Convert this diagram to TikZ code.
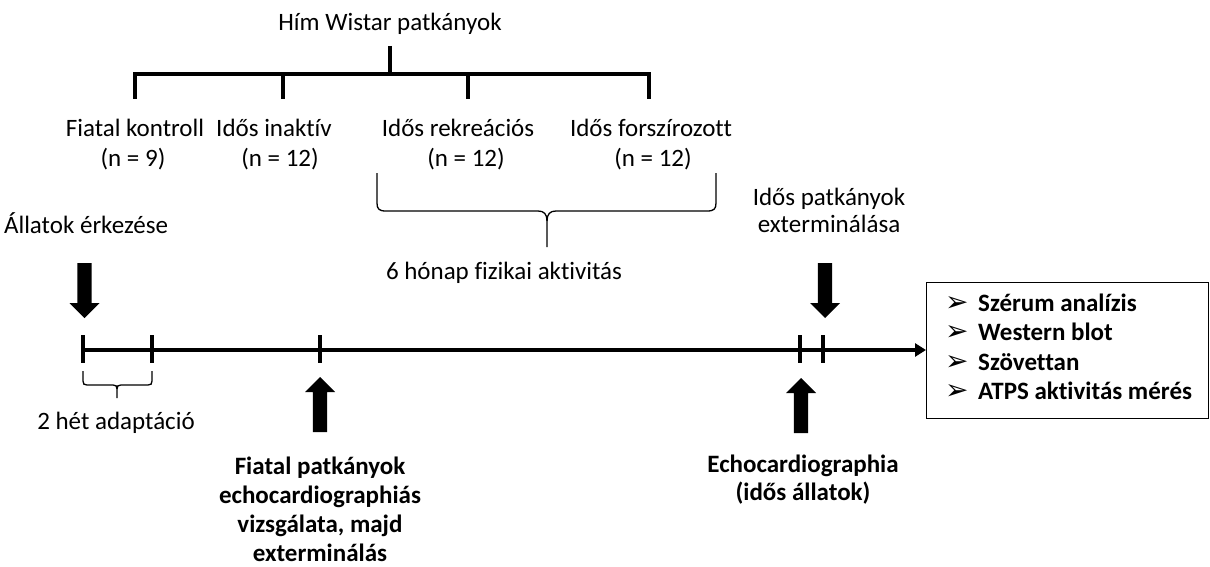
\documentclass[tikz,border=0pt]{standalone}
\usepackage{fontspec}
\setmainfont{Carlito}[Ligatures={NoCommon}]
\newfontfamily\dejavu{DejaVu Sans}
\usetikzlibrary{arrows.meta}
\begin{document}
\begin{tikzpicture}[x=1pt,y=-1pt,
  lbl/.style={font=\fontsize{25}{30}\selectfont, inner sep=0pt, anchor=base},
  blbl/.style={lbl, font=\fontsize{25}{30}\selectfont\bfseries},
  tree/.style={line width=4.5pt, line join=miter},
  tick/.style={line width=4pt},
  brace/.style={line width=1.3pt, line join=round},
  downarr/.pic={\fill (-7.2,0) -- (7.2,0) -- (7.2,40) -- (15,40) -- (0,55) -- (-15,40) -- (-7.2,40) -- cycle;},
  uparr/.pic={\fill (0,0) -- (15,15) -- (7.2,15) -- (7.2,55) -- (-7.2,55) -- (-7.2,15) -- (-15,15) -- cycle;},
]
\useasboundingbox (0,0) rectangle (1210,567);

% tree
\node[lbl] (top) at (390,31) {Hím Wistar patkányok};
\coordinate (tb) at (390,46);
\coordinate (tj) at (390,74);
\coordinate (d1) at (135,99);
\coordinate (d2) at (283,99);
\coordinate (d3) at (468,99);
\coordinate (d4) at (649,99);
\draw[tree] (tb) -- (tj);
\draw[tree] (d1) |- (tj) -| (d4);
\draw[tree] (d2) -- (d2|-tj);
\draw[tree] (d3) -- (d3|-tj);

\node[lbl] (g1) at (135,136) {Fiatal kontroll};
\node[lbl] (g1n) at (133,167) {(n = 9)};
\node[lbl] (g2) at (274,136) {Idős inaktív};
\node[lbl] (g2n) at (280,167) {(n = 12)};
\node[lbl] (g3) at (458,136) {Idős rekreációs};
\node[lbl] (g3n) at (466,167) {(n = 12)};
\node[lbl] (g4) at (651,136) {Idős forszírozott};
\node[lbl] (g4n) at (653,167) {(n = 12)};

% big brace
\draw[brace] (377,173) -- (377,203) .. controls (377,209) and (379,211) .. (386,211) -- (538,211) .. controls (544,211) and (547,214) .. (547,221) -- (547,247);
\draw[brace] (716,173) -- (716,203) .. controls (716,209) and (714,211) .. (707,211) -- (556,211) .. controls (550,211) and (547,214) .. (547,221);
\node[lbl] (act) at (504,279) {6 hónap fizikai aktivitás};

% small brace
\draw[brace] (83,371) -- (83,381) .. controls (83,384) and (84,385) .. (87,385) -- (113,385) .. controls (116,385) and (117,386) .. (117,389) -- (117,398);
\draw[brace] (152,371) -- (152,381) .. controls (152,384) and (151,385) .. (148,385) -- (121,385) .. controls (118,385) and (117,386) .. (117,389);
\node[lbl] (adapt) at (116,429) {2 hét adaptáció};

% timeline
\node[draw, line width=1.3pt, minimum width=282pt, minimum height=136pt, inner sep=0pt, anchor=north west] (box) at (926,282) {};
\coordinate (t0) at (83,350);
\draw[line width=4pt, -{Triangle[length=11pt,width=13pt]}] (t0) -- (t0 -| box.west);
\foreach \x in {83,152,320,800,823} \draw[tick] (\x,335) -- (\x,363);

% block arrows
\pic at (84.5,263) {downarr};
\pic at (825,263) {downarr};
\pic at (320,377) {uparr};
\pic at (801,378) {uparr};

% labels
\node[lbl] (arr) at (86,233) {Állatok érkezése};
\node[lbl] (ext1) at (829,205) {Idős patkányok};
\node[lbl] (ext2) at (829,232) {exterminálása};

\node[blbl] (f1) at (320,474) {Fiatal patkányok};
\node[blbl] (f2) at (320,503) {echocardiographiás};
\node[blbl] (f3) at (320,532) {vizsgálata, majd};
\node[blbl] (f4) at (320,561) {exterminálás};

\node[blbl] (e1) at (803,472) {Echocardiographia};
\node[blbl] (e2) at (803,500) {(idős állatok)};

\foreach \t [count=\i] in {Szérum analízis, Western blot, Szövettan, ATPS aktivitás mérés}
  \node[blbl, anchor=base west] (it\i) at (945, 281.5+29.5*\i) {\makebox[33pt][l]{\dejavu\fontsize{28}{28}\selectfont ➢}\t};
\end{tikzpicture}
\end{document}
